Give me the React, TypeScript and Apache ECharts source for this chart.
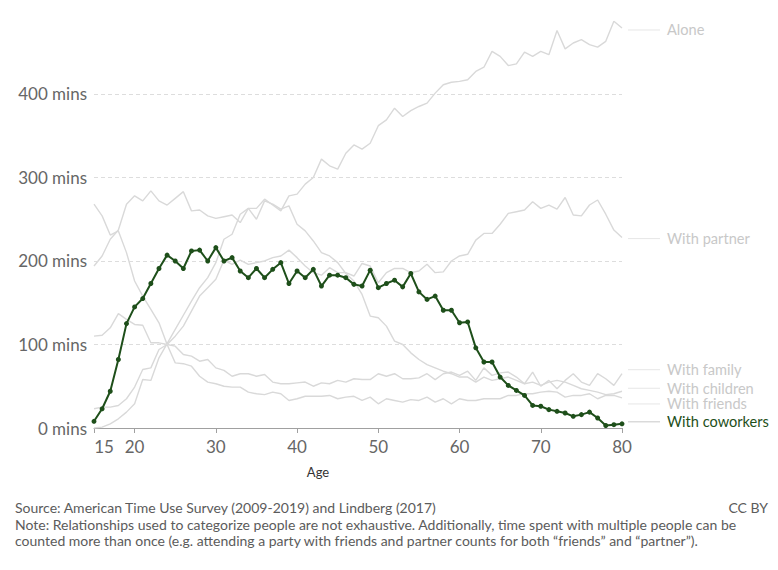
import React, { useEffect, useRef } from "react";
import * as echarts from "echarts";

const ages = [
  "15","16","17","18","19","20","21","22","23","24","25","26","27","28","29","30",
  "31","32","33","34","35","36","37","38","39","40","41","42","43","44","45","46",
  "47","48","49","50","51","52","53","54","55","56","57","58","59","60","61","62",
  "63","64","65","66","67","68","69","70","71","72","73","74","75","76","77","78",
  "79","80",
];

const alone = [
  194, 206, 226, 237, 268, 278, 272, 284, 272, 267, 275, 283, 260, 261, 254, 251,
  253, 255, 246, 263, 263, 274, 267, 260, 278, 280, 292, 300, 322, 314, 310, 329,
  339, 334, 341, 362, 369, 383, 373, 380, 385, 389, 401, 411, 414, 415, 417, 427,
  432, 451, 445, 434, 436, 450, 445, 451, 447, 476, 454, 461, 465, 459, 456, 463,
  487, 479,
];

const partner = [
  23, 25, 25, 27, 35, 49, 70, 72, 94, 100, 110, 122, 140, 158, 168, 178,
  201, 196, 201, 196, 198, 200, 204, 206, 213, 204, 194, 186, 183, 192, 186, 186,
  182, 197, 194, 174, 186, 191, 191, 186, 188, 196, 186, 187, 200, 206, 208, 225,
  233, 233, 244, 257, 259, 261, 271, 263, 267, 262, 276, 255, 254, 267, 273, 256,
  237, 228,
];

const family = [
  110, 111, 120, 137, 130, 124, 123, 102, 102, 100, 98, 88, 86, 80, 82, 72,
  69, 62, 65, 65, 62, 64, 55, 53, 53, 54, 55, 50, 54, 53, 57, 55,
  59, 58, 58, 65, 62, 65, 59, 59, 60, 65, 58, 65, 67, 63, 68, 57,
  72, 63, 66, 67, 61, 53, 67, 50, 57, 47, 57, 65, 55, 51, 65, 59,
  51, 65,
];

const children = [
  0, 1, 5, 11, 19, 29, 58, 57, 84, 101, 118, 135, 152, 168, 180, 198,
  226, 232, 256, 263, 250, 272, 268, 262, 266, 244, 236, 224, 210, 206, 198, 185,
  176, 160, 134, 132, 122, 104, 100, 90, 82, 76, 72, 68, 65, 61, 61, 55,
  61, 57, 59, 61, 57, 53, 55, 51, 55, 57, 55, 51, 47, 45, 43, 40,
  41, 44,
];

const friends = [
  268, 254, 231, 236, 210, 176, 158, 142, 126, 100, 78, 77, 74, 62, 55, 53,
  50, 49, 49, 43, 41, 40, 43, 41, 33, 35, 38, 38, 38, 39, 35, 37,
  38, 33, 37, 29, 35, 33, 31, 34, 33, 37, 31, 35, 29, 35, 33, 33,
  35, 35, 35, 39, 39, 41, 41, 43, 44, 43, 37, 39, 39, 41, 35, 39,
  39, 36,
];

const coworkers = [
  8, 23, 44, 82, 125, 145, 155, 173, 191, 207, 200, 191, 212, 213, 200, 216,
  200, 204, 188, 180, 191, 180, 190, 198, 173, 188, 180, 190, 170, 183, 183, 180,
  172, 170, 189, 168, 173, 177, 169, 185, 163, 154, 158, 141, 141, 126, 127, 96,
  79, 79, 61, 51, 45, 39, 27, 26, 22, 20, 18, 14, 16, 19, 12, 3,
  4, 5,
];

const xTickAges = ["15", "20", "30", "40", "50", "60", "70", "80"];
const yGridValues = [100, 200, 300, 400];

const seriesNames = [
  "Alone",
  "With partner",
  "With family",
  "With children",
  "With friends",
  "With coworkers",
];
const seriesData = [alone, partner, family, children, friends, coworkers];
const labelOffsets = [2, 1, -4, -3, 6, -2];

const GRAY = "#d9d9d9";
const GRAY_LABEL = "#c8c8c8";
const GREEN = "#1e4f1a";
const FONT = "Lato, 'Open Sans', sans-serif";

export default function App() {
  const ref = useRef<HTMLDivElement>(null);

  useEffect(() => {
    if (!ref.current) return;
    const chart = echarts.init(ref.current, null, { renderer: "svg" });

    const series: any[] = seriesData.map((data, i) => {
      const highlight = i === seriesData.length - 1;
      const s: any = {
        name: seriesNames[i],
        type: "line",
        data,
        showSymbol: highlight,
        symbol: "circle",
        symbolSize: 5,
        z: highlight ? 5 : 2,
        lineStyle: { color: highlight ? GREEN : GRAY, width: highlight ? 2 : 1.4 },
        itemStyle: { color: highlight ? GREEN : GRAY },
        emphasis: { disabled: true },
        endLabel: {
          show: true,
          distance: 6,
          offset: [0, labelOffsets[i]],
          formatter: () => `{l|}{t|${seriesNames[i]}}`,
          rich: {
            l: {
              width: 32,
              height: 1,
              backgroundColor: highlight ? "#c8c8c8" : "#e6e6e6",
              verticalAlign: "middle",
            },
            t: {
              padding: [0, 0, 0, 7],
              fontSize: 14.6,
              lineHeight: 15,
              fontFamily: FONT,
              color: highlight ? GREEN : GRAY_LABEL,
            },
          },
        },
      };
      if (i === 0) {
        s.markLine = {
          silent: true,
          symbol: "none",
          label: { show: false },
          lineStyle: { color: "#dddddd", type: [4, 3], width: 1 },
          data: yGridValues.map((v) => ({ yAxis: v })),
        };
      }
      return s;
    });

    chart.setOption({
      animation: false,
      backgroundColor: "#ffffff",
      textStyle: { fontFamily: FONT },
      grid: { left: 94, right: 156, top: 21.3, bottom: 142, containLabel: false },
      xAxis: {
        type: "category",
        data: ages,
        boundaryGap: false,
        name: "Age",
        nameLocation: "middle",
        nameGap: 37,
        nameTextStyle: {
          fontSize: 13,
          color: "#333333",
          fontFamily: FONT,
          padding: [0, 80, 0, 0],
        },
        axisLine: { show: true, lineStyle: { color: "#a0a0a0", width: 1 } },
        axisTick: {
          show: true,
          length: 5,
          lineStyle: { color: "#a0a0a0" },
          interval: (_i: number, v: string) => xTickAges.includes(v),
        },
        axisLabel: {
          interval: (_i: number, v: string) => xTickAges.includes(v),
          fontSize: 17,
          color: "#666666",
          fontFamily: FONT,
          margin: 10,
          formatter: (v: string) => (v === "15" ? `{f|${v}}` : v),
          rich: {
            f: {
              padding: [0, 0, 0, 20],
              fontSize: 17,
              color: "#666666",
              fontFamily: FONT,
            },
          },
        },
        splitLine: { show: false },
      },
      yAxis: {
        type: "value",
        min: 0,
        max: 487,
        interval: 100,
        axisLine: { show: false },
        axisTick: { show: false },
        splitLine: { show: false },
        axisLabel: {
          fontSize: 17,
          color: "#666666",
          fontFamily: FONT,
          margin: 7,
          formatter: (v: number) => (v % 100 === 0 ? `${v} mins` : ""),
        },
      },
      series,
      graphic: [
        {
          type: "text",
          left: 15,
          top: 500,
          style: {
            text: "Source: American Time Use Survey (2009-2019) and Lindberg (2017)",
            fontSize: 14,
            fontFamily: FONT,
            fill: "#5b5b5b",
          },
        },
        {
          type: "text",
          right: 10,
          top: 500,
          style: {
            text: "CC BY",
            fontSize: 14,
            fontFamily: FONT,
            fill: "#5b5b5b",
          },
        },
        {
          type: "text",
          left: 15,
          top: 516,
          style: {
            text:
              "Note: Relationships used to categorize people are not exhaustive. Additionally, time spent with multiple people can be\ncounted more than once (e.g. attending a party with friends and partner counts for both \u201cfriends\u201d and \u201cpartner\u201d).",
            fontSize: 14,
            lineHeight: 16,
            fontFamily: FONT,
            fill: "#5b5b5b",
          },
        },
      ],
    });

    return () => {
      chart.dispose();
    };
  }, []);

  return (
    <div
      ref={ref}
      style={{ position: "absolute", left: 0, top: 0, width: 778, height: 570 }}
    />
  );
}
